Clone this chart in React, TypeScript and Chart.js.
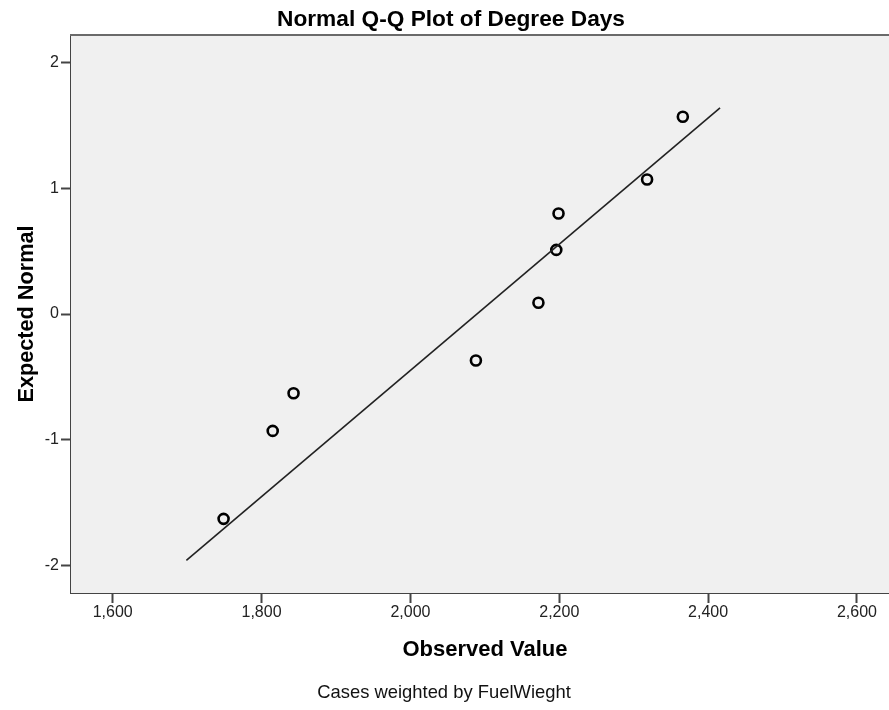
import React, { useEffect, useRef } from "react";
import { Chart, registerables } from "chart.js";

Chart.register(...registerables);

// Observed values (degree days) and their expected normal scores
const observedValues = [1749, 1815, 1843, 2088, 2172, 2196, 2199, 2318, 2366];
const expectedNormal = [-1.63, -0.93, -0.63, -0.37, 0.09, 0.51, 0.8, 1.07, 1.57];

// Reference line end points
const refLineX = [1699, 2416];
const refLineY = [-1.96, 1.64];

// Axis ticks and ranges
const xTicks = [1600, 1800, 2000, 2200, 2400, 2600];
const yTicks = [-2, -1, 0, 1, 2];
const xRange = [1544, 2643];
const yRange = [-2.22, 2.22];

const chartTitle = "Normal Q-Q Plot of Degree Days";
const xTitle = "Observed Value";
const yTitle = "Expected Normal";
const footnote = "Cases weighted by FuelWieght";

const FONT = "'Liberation Sans', Arial, Helvetica, sans-serif";

const WIDTH = 889;
const HEIGHT = 710;

const panelPlugin = {
  id: "panel",
  beforeDatasetsDraw(chart: any) {
    const { ctx, chartArea } = chart;
    ctx.save();
    ctx.fillStyle = "#f0f0f0";
    ctx.fillRect(
      chartArea.left,
      chartArea.top,
      chartArea.right - chartArea.left,
      chartArea.bottom - chartArea.top
    );
    ctx.restore();
  },
  afterDraw(chart: any) {
    const { ctx, chartArea } = chart;
    ctx.save();
    // top frame line
    ctx.strokeStyle = "#6a6a6a";
    ctx.lineWidth = 2;
    ctx.beginPath();
    ctx.moveTo(chartArea.left - 1, chartArea.top);
    ctx.lineTo(chartArea.right, chartArea.top);
    ctx.stroke();

    ctx.fillStyle = "#000";
    ctx.textAlign = "center";
    ctx.textBaseline = "alphabetic";

    ctx.font = `bold 22.7px ${FONT}`;
    ctx.fillText(chartTitle, 451, 26);

    ctx.font = `bold 22px ${FONT}`;
    ctx.fillText(xTitle, 485, 656);

    ctx.font = `18.4px ${FONT}`;
    ctx.fillStyle = "#111";
    ctx.fillText(footnote, 444, 698);

    ctx.fillStyle = "#000";
    ctx.save();
    ctx.translate(33, 314);
    ctx.rotate(-Math.PI / 2);
    ctx.font = `bold 21.7px ${FONT}`;
    ctx.fillText(yTitle, 0, 0);
    ctx.restore();

    ctx.restore();
  },
};

export default function App() {
  const canvasRef = useRef<HTMLCanvasElement | null>(null);

  useEffect(() => {
    const canvas = canvasRef.current;
    if (!canvas) return;

    const chart = new Chart(canvas, {
      type: "scatter",
      data: {
        datasets: [
          {
            label: "Reference",
            data: refLineX.map((x, i) => ({ x, y: refLineY[i] })),
            showLine: true,
            borderColor: "#222",
            borderWidth: 1.6,
            pointRadius: 0,
            fill: false,
          },
          {
            label: "Observed",
            data: observedValues.map((x, i) => ({ x, y: expectedNormal[i] })),
            pointStyle: "circle",
            pointRadius: 5,
            pointBorderWidth: 2.6,
            pointBorderColor: "#000",
            pointBackgroundColor: "rgba(0,0,0,0)",
            showLine: false,
          },
        ],
      },
      options: {
        animation: false,
        responsive: false,
        maintainAspectRatio: false,
        layout: {
          autoPadding: false,
          padding: { top: 35, left: 0, right: 0, bottom: 0 },
        },
        plugins: {
          legend: { display: false },
          tooltip: { enabled: false },
          title: { display: false },
        },
        scales: {
          x: {
            type: "linear",
            min: xRange[0],
            max: xRange[1],
            afterBuildTicks(scale: any) {
              scale.ticks = xTicks.map((v) => ({ value: v }));
            },
            afterFit(scale: any) {
              scale.height = 117;
              scale.paddingLeft = 0;
              scale.paddingRight = 0;
            },
            grid: {
              drawOnChartArea: false,
              drawTicks: true,
              tickLength: 10,
              tickWidth: 2,
              tickColor: "#444",
            },
            border: { display: true, color: "#444", width: 2 },
            ticks: {
              padding: 0,
              color: "#222",
              font: { family: FONT, size: 16 },
              callback: (v: any) => Number(v).toLocaleString("en-US"),
            },
          },
          y: {
            type: "linear",
            min: yRange[0],
            max: yRange[1],
            afterBuildTicks(scale: any) {
              scale.ticks = yTicks.map((v) => ({ value: v }));
            },
            afterFit(scale: any) {
              scale.width = 71;
              scale.paddingTop = 0;
              scale.paddingBottom = 0;
            },
            grid: {
              drawOnChartArea: false,
              drawTicks: true,
              tickLength: 10,
              tickWidth: 2,
              tickColor: "#444",
            },
            border: { display: true, color: "#444", width: 2 },
            ticks: {
              padding: 2,
              color: "#222",
              font: { family: FONT, size: 16 },
              callback: (v: any) => String(v),
            },
          },
        },
      },
      plugins: [panelPlugin],
    });

    return () => chart.destroy();
  }, []);

  return (
    <div
      style={{
        position: "absolute",
        left: 0,
        top: 0,
        width: WIDTH,
        height: HEIGHT,
        background: "#fff",
      }}
    >
      <canvas ref={canvasRef} width={WIDTH} height={HEIGHT} />
    </div>
  );
}
